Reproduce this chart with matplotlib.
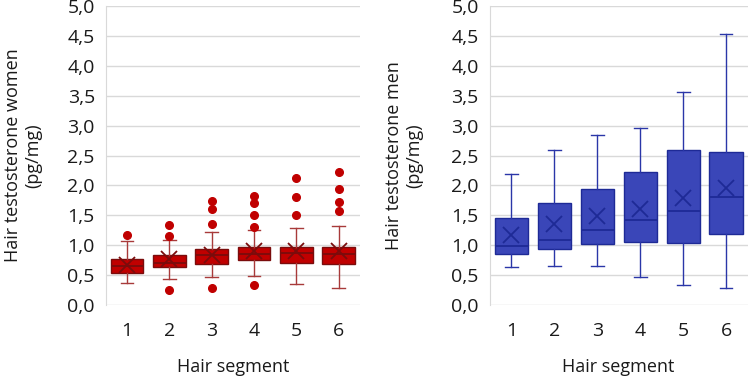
import numpy as np
import matplotlib.pyplot as plt

plt.rcParams["font.family"] = ["Open Sans", "DejaVu Sans"]

segments = ["1", "2", "3", "4", "5", "6"]

# women (left panel)
w_q1 = [0.53, 0.63, 0.69, 0.76, 0.71, 0.69]
w_med = [0.66, 0.70, 0.84, 0.86, 0.875, 0.85]
w_q3 = [0.775, 0.84, 0.94, 0.965, 0.965, 0.965]
w_lo = [0.36, 0.44, 0.47, 0.48, 0.345, 0.29]
w_hi = [1.065, 1.08, 1.215, 1.255, 1.28, 1.315]
w_mean = [0.67, 0.77, 0.84, 0.90, 0.91, 0.91]
w_out = [
    [1.175],
    [1.34, 1.16, 0.255],
    [1.735, 1.605, 1.355, 0.29],
    [1.815, 1.70, 1.505, 1.31, 0.33],
    [2.12, 1.81, 1.505],
    [2.23, 1.935, 1.715, 1.565],
]

# men (right panel)
m_q1 = [0.85, 0.93, 1.015, 1.06, 1.03, 1.19]
m_med = [0.99, 1.08, 1.255, 1.42, 1.565, 1.81]
m_q3 = [1.45, 1.705, 1.945, 2.225, 2.60, 2.56]
m_lo = [0.635, 0.645, 0.645, 0.465, 0.34, 0.285]
m_hi = [2.19, 2.585, 2.835, 2.965, 3.56, 4.54]
m_mean = [1.17, 1.355, 1.495, 1.605, 1.795, 1.96]
m_out = [[], [], [], [], [], []]


def make_stats(q1, med, q3, lo, hi, mean, out):
    stats = []
    for i in range(len(q1)):
        stats.append(dict(q1=q1[i], med=med[i], q3=q3[i], whislo=lo[i],
                          whishi=hi[i], mean=mean[i], fliers=out[i]))
    return stats


def draw_panel(ax, stats, fill, edge, whisk, ylab, ypad):
    pos = np.arange(1, len(segments) + 1)
    ax.bxp(stats, positions=pos, widths=0.77, patch_artist=True,
           showmeans=True, showfliers=True,
           boxprops=dict(facecolor=fill, edgecolor=edge, linewidth=1.0),
           medianprops=dict(color=edge, linewidth=1.3),
           whiskerprops=dict(color=whisk, linewidth=1.0),
           capprops=dict(color=whisk, linewidth=1.0),
           meanprops=dict(marker="x", markeredgecolor=edge, markersize=11,
                          markeredgewidth=1.3),
           flierprops=dict(marker="o", markerfacecolor=fill,
                           markeredgecolor=fill, markersize=5.5),
           capwidths=0.3, zorder=3)
    ax.set_xlim(0.5, 6.5)
    ax.set_ylim(0, 5)
    ticks = np.arange(0, 5.01, 0.5)
    ax.set_yticks(ticks)
    ax.set_yticklabels([f"{v:.1f}".replace(".", ",") for v in ticks])
    ax.set_xticks(pos)
    ax.set_xticklabels(segments)
    ax.grid(axis="y", color="#d9d9d9", linewidth=1.0, zorder=0)
    ax.set_axisbelow(True)
    for s in ["top", "right", "bottom"]:
        ax.spines[s].set_visible(False)
    ax.spines["left"].set_color("#d9d9d9")
    ax.tick_params(length=0, labelsize=14, colors="#1a1a1a", pad=8)
    ax.tick_params(axis="x", pad=12)
    ax.set_xlabel("Hair segment", fontsize=13, labelpad=13, color="#1a1a1a")
    ax.set_ylabel(ylab, fontsize=13, labelpad=ypad, color="#1a1a1a")


fig = plt.figure(figsize=(7.49, 3.77), dpi=100)
ax1 = fig.add_axes([0.1415, 0.191, 0.339, 0.793])
ax2 = fig.add_axes([0.654, 0.191, 0.344, 0.793])

draw_panel(ax1, make_stats(w_q1, w_med, w_q3, w_lo, w_hi, w_mean, w_out),
           "#c00000", "#7a0c0c", "#a83a3a", "Hair testosterone women\n(pg/mg)", 18)
draw_panel(ax2, make_stats(m_q1, m_med, m_q3, m_lo, m_hi, m_mean, m_out),
           "#3a46b8", "#1e2a96", "#2a36a8", "Hair testosterone men\n(pg/mg)", 20)

fig.savefig("out.png", dpi=100)
